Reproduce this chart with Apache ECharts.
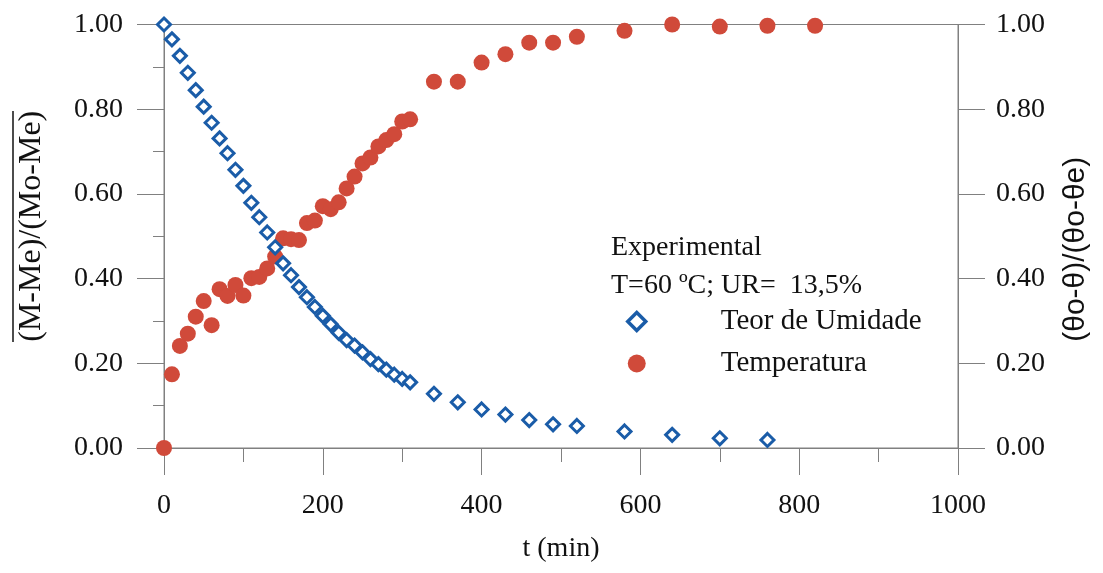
<!DOCTYPE html>
<html>
<head>
<meta charset="utf-8">
<script src="https://cdn.jsdelivr.net/npm/echarts@6/dist/echarts.min.js"></script>
<style>
html,body{margin:0;padding:0;background:#fff;}
#chart{width:1103px;height:573px;}
</style>
</head>
<body>
<div id="chart"></div>
<script>
var moistureTime = [0,10,20,30,40,50,60,70,80,90,100,110,120,130,140,150,160,170,180,190,200,210,220,230,240,250,260,270,280,290,300,310,340,370,400,430,460,490,520,580,640,700,760];
var moistureValue = [1.000,0.965,0.926,0.886,0.845,0.806,0.768,0.731,0.696,0.657,0.619,0.579,0.545,0.509,0.474,0.436,0.408,0.380,0.356,0.333,0.312,0.292,0.272,0.255,0.242,0.226,0.210,0.198,0.185,0.173,0.163,0.155,0.128,0.108,0.091,0.079,0.066,0.056,0.052,0.039,0.031,0.023,0.019];
var tempTime = [0,10,20,30,40,50,60,70,80,90,100,110,120,130,140,150,160,170,180,190,200,210,220,230,240,250,260,270,280,290,300,310,340,370,400,430,460,490,520,580,640,700,760,820];
var tempValue = [0.000,0.174,0.241,0.270,0.310,0.347,0.290,0.375,0.359,0.385,0.360,0.401,0.404,0.424,0.452,0.495,0.493,0.491,0.531,0.537,0.571,0.564,0.580,0.613,0.641,0.672,0.686,0.712,0.727,0.741,0.771,0.776,0.865,0.865,0.910,0.930,0.957,0.957,0.971,0.985,1.000,0.995,0.997,0.997];
var seriesNames = ['Teor de Umidade','Temperatura'];
var xTicks = {min:0,max:1000,interval:200};
var yTicks = {min:0,max:1,interval:0.2};
var legendTitle = 'Experimental';
var legendSub = 'T=60 ºC; UR=  13,5%';

function pairs(xs, ys){ return xs.map(function(x,i){ return [x, ys[i]]; }); }

var serif = 'Liberation Serif';
var axisColor = '#808080';
var txt = '#111';
var chart = echarts.init(document.getElementById('chart'));
chart.setOption({
  animation:false,
  backgroundColor:'#fff',
  grid:{left:164,right:145,top:24.5,bottom:125,show:true,borderColor:axisColor,borderWidth:1,backgroundColor:'transparent'},
  title:{text:legendTitle,subtext:legendSub,left:606,top:229,itemGap:10,
    textStyle:{fontFamily:serif,fontSize:28,fontWeight:'normal',color:txt},
    subtextStyle:{fontFamily:serif,fontSize:28,color:txt}},
  legend:{orient:'vertical',left:621,top:302,itemGap:13,itemWidth:18,itemHeight:18,
    data:[
      {name:seriesNames[0],icon:'diamond',itemStyle:{color:'#fff',borderColor:'#1a5ca8',borderWidth:3.5}},
      {name:seriesNames[1],icon:'circle'}
    ],
    textStyle:{fontFamily:serif,fontSize:29,color:txt,padding:[0,0,0,70]}},
  xAxis:{type:'value',min:xTicks.min,max:xTicks.max,interval:xTicks.interval,
    name:'t (min)',nameLocation:'middle',nameGap:87,
    nameTextStyle:{fontFamily:serif,fontSize:28,color:txt},
    axisLine:{lineStyle:{color:axisColor,width:1}},
    axisTick:{length:27,lineStyle:{color:axisColor}},
    minorTick:{show:true,splitNumber:2,length:14,lineStyle:{color:axisColor}},
    splitLine:{show:false},
    axisLabel:{margin:44,fontFamily:serif,fontSize:28,color:txt,formatter:function(v){return String(v);}}},
  yAxis:[
    {type:'value',min:yTicks.min,max:yTicks.max,interval:yTicks.interval,position:'left',
     name:'(M-Me)/(Mo-Me)',nameLocation:'middle',nameGap:116,nameRotate:90,
     nameTextStyle:{fontFamily:serif,fontSize:32,color:txt,padding:[0,0,0,20]},
     axisLine:{show:true,lineStyle:{color:axisColor}},
     axisTick:{length:27,lineStyle:{color:axisColor}},
     minorTick:{show:true,splitNumber:2,length:11,lineStyle:{color:axisColor}},
     splitLine:{show:false},
     axisLabel:{margin:41,fontFamily:serif,fontSize:28,color:txt,formatter:function(v){return v.toFixed(2);}}},
    {type:'value',min:yTicks.min,max:yTicks.max,interval:yTicks.interval,position:'right',
     name:'(θo-θ)/(θo-θe)',nameLocation:'middle',nameGap:103,nameRotate:90,
     nameTextStyle:{fontFamily:'Liberation Sans',fontSize:30,color:txt,padding:[0,26,0,0]},
     axisLine:{show:true,lineStyle:{color:axisColor}},
     axisTick:{length:27,lineStyle:{color:axisColor}},
     splitLine:{show:false},
     axisLabel:{margin:38,fontFamily:serif,fontSize:28,color:txt,formatter:function(v){return v.toFixed(2);}}}
  ],
  graphic:[{type:'line',shape:{x1:13,y1:111,x2:13,y2:342},style:{stroke:'#111',lineWidth:1.5}}],
  series:[
    {name:seriesNames[1],type:'scatter',yAxisIndex:1,data:pairs(tempTime,tempValue),
     symbol:'circle',symbolSize:16,itemStyle:{color:'#d04a3a',opacity:1}},
    {name:seriesNames[0],type:'scatter',yAxisIndex:0,data:pairs(moistureTime,moistureValue),
     symbol:'diamond',symbolSize:13,itemStyle:{color:'#ffffff',borderColor:'#1a5ca8',borderWidth:3,opacity:1}}
  ]
});
</script>
</body>
</html>
